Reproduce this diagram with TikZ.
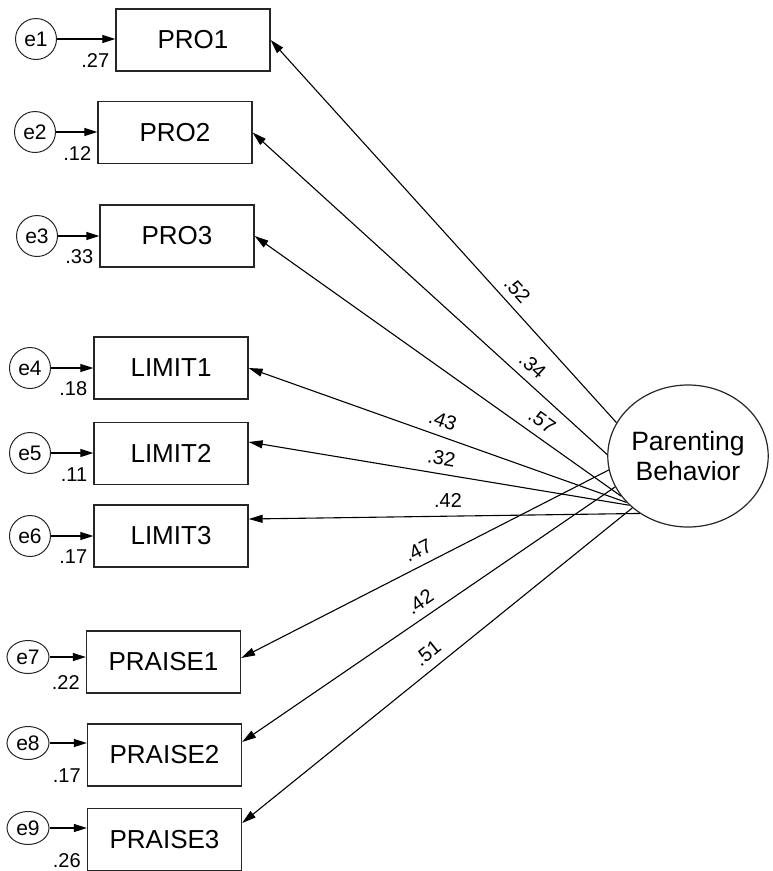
\documentclass[tikz,border=0pt]{standalone}
\usepackage{fontspec}
\setmainfont{Liberation Sans}
\usetikzlibrary{shapes.geometric,arrows.meta}
\begin{document}
\begin{tikzpicture}[x=1pt,y=-1pt,
  obs/.style={draw=black!85, line width=1.3pt, minimum width=154pt, minimum height=62pt,
              inner sep=0pt, font=\fontsize{26}{30}\selectfont},
  err/.style={draw=black!85, shape=circle, line width=1pt, minimum size=41pt,
              inner sep=0pt, font=\fontsize{21}{24}\selectfont},
  errflat/.style={draw=black!85, shape=ellipse, line width=1pt, minimum width=42pt, minimum height=33pt,
              inner sep=0pt, font=\fontsize{21}{24}\selectfont},
  lat/.style={draw=black!85, shape=ellipse, line width=1.2pt, minimum width=160pt, minimum height=142pt,
              inner sep=0pt, align=center, font=\fontsize{26.5}{30}\selectfont},
  load/.style={line width=1.1pt, -{Triangle[length=14pt,width=8pt]}},
  errarr/.style={line width=1.1pt, -{Triangle[length=13pt,width=8pt]}},
  coef/.style={font=\fontsize{20}{24}\selectfont, inner sep=2pt, sloped, above=6pt},
  resid/.style={font=\fontsize{20}{24}\selectfont, inner sep=0pt, anchor=base east}
]
\useasboundingbox (0,0) rectangle (772,871);

% latent factor
\node[lat] (pb) at (688,456) {Parenting\\Behavior};

% observed indicators
\node[obs] (pro1) at (193,40)    {PRO1};
\node[obs] (pro2) at (175,132.5) {PRO2};
\node[obs] (pro3) at (177,236)   {PRO3};
\node[obs] (lim1) at (171,368)   {LIMIT1};
\node[obs] (lim2) at (171,453.5) {LIMIT2};
\node[obs] (lim3) at (171,536)   {LIMIT3};
\node[obs] (pra1) at (163.5,662) {PRAISE1};
\node[obs] (pra2) at (164.5,755) {PRAISE2};
\node[obs] (pra3) at (164.5,839.5) {PRAISE3};

% error terms
\node[err] (e1) at (36,39)  {e1};
\node[err] (e2) at (35,132) {e2};
\node[err] (e3) at (37,236) {e3};
\node[err] (e4) at (30,368) {e4};
\node[err] (e5) at (30,453) {e5};
\node[err] (e6) at (30,536) {e6};
\node[errflat] (e7) at (28,657) {e7};
\node[errflat] (e8) at (28,743) {e8};
\node[errflat] (e9) at (28,828) {e9};

% arrow targets on the right sides of the boxes
\coordinate (t1) at (pro1.east);
\coordinate (t2) at (pro2.east);
\coordinate (t3) at (pro3.east);
\coordinate (t4) at (lim1.east);
\coordinate (t5) at ([yshift=11.5pt]lim2.east);
\coordinate (t6) at ([yshift=17pt]lim3.east);
\coordinate (t7) at ([yshift=4pt]pra1.east);
\coordinate (t8) at ([yshift=13pt]pra2.east);
\coordinate (t9) at ([yshift=16.5pt]pra3.east);

% factor loadings
\draw[load] (pb.155)   -- (t1) node[coef, pos=0.32] {.52};
\draw[load] (pb.179)   -- (t2) node[coef, pos=0.24] {.34};
\draw[load] (pb.211)   -- (t3) node[coef, pos=0.24] {.57};
\draw[load] (pb.217)   -- (t4) node[coef, pos=0.50] {.43};
\draw[load] (pb.220)   -- (t5) node[coef, pos=0.50] {.32};
\draw[load] (pb.230.4) -- (t6) node[coef, pos=0.49] {.42};
\draw[load] (pb.190.2) -- (t7) node[coef, pos=0.50] {.47};
\draw[load] (pb.203.6) -- (t8) node[coef, pos=0.50] {.42};
\draw[load] (pb.223.4) -- (t9) node[coef, pos=0.50] {.51};

% error paths
\foreach \e/\b in {e1/pro1,e2/pro2,e3/pro3,e4/lim1,e5/lim2,e6/lim3,e7/pra1,e8/pra2,e9/pra3}
  \draw[errarr] (\e.east) -- (\e.east -| \b.west);

% squared multiple correlations
\node[resid] at ([xshift=-6pt,yshift=4pt]pro1.south west) {.27};
\node[resid] at ([xshift=-6pt,yshift=4pt]pro2.south west) {.12};
\node[resid] at ([xshift=-6pt,yshift=4pt]pro3.south west) {.33};
\node[resid] at ([xshift=-6pt,yshift=4pt]lim1.south west) {.18};
\node[resid] at ([xshift=-6pt,yshift=4pt]lim2.south west) {.11};
\node[resid] at ([xshift=-6pt,yshift=4pt]lim3.south west) {.17};
\node[resid] at ([xshift=-6pt,yshift=4pt]pra1.south west) {.22};
\node[resid] at ([xshift=-6pt,yshift=4pt]pra2.south west) {.17};
\node[resid] at ([xshift=-6pt,yshift=4pt]pra3.south west) {.26};
\end{tikzpicture}
\end{document}
